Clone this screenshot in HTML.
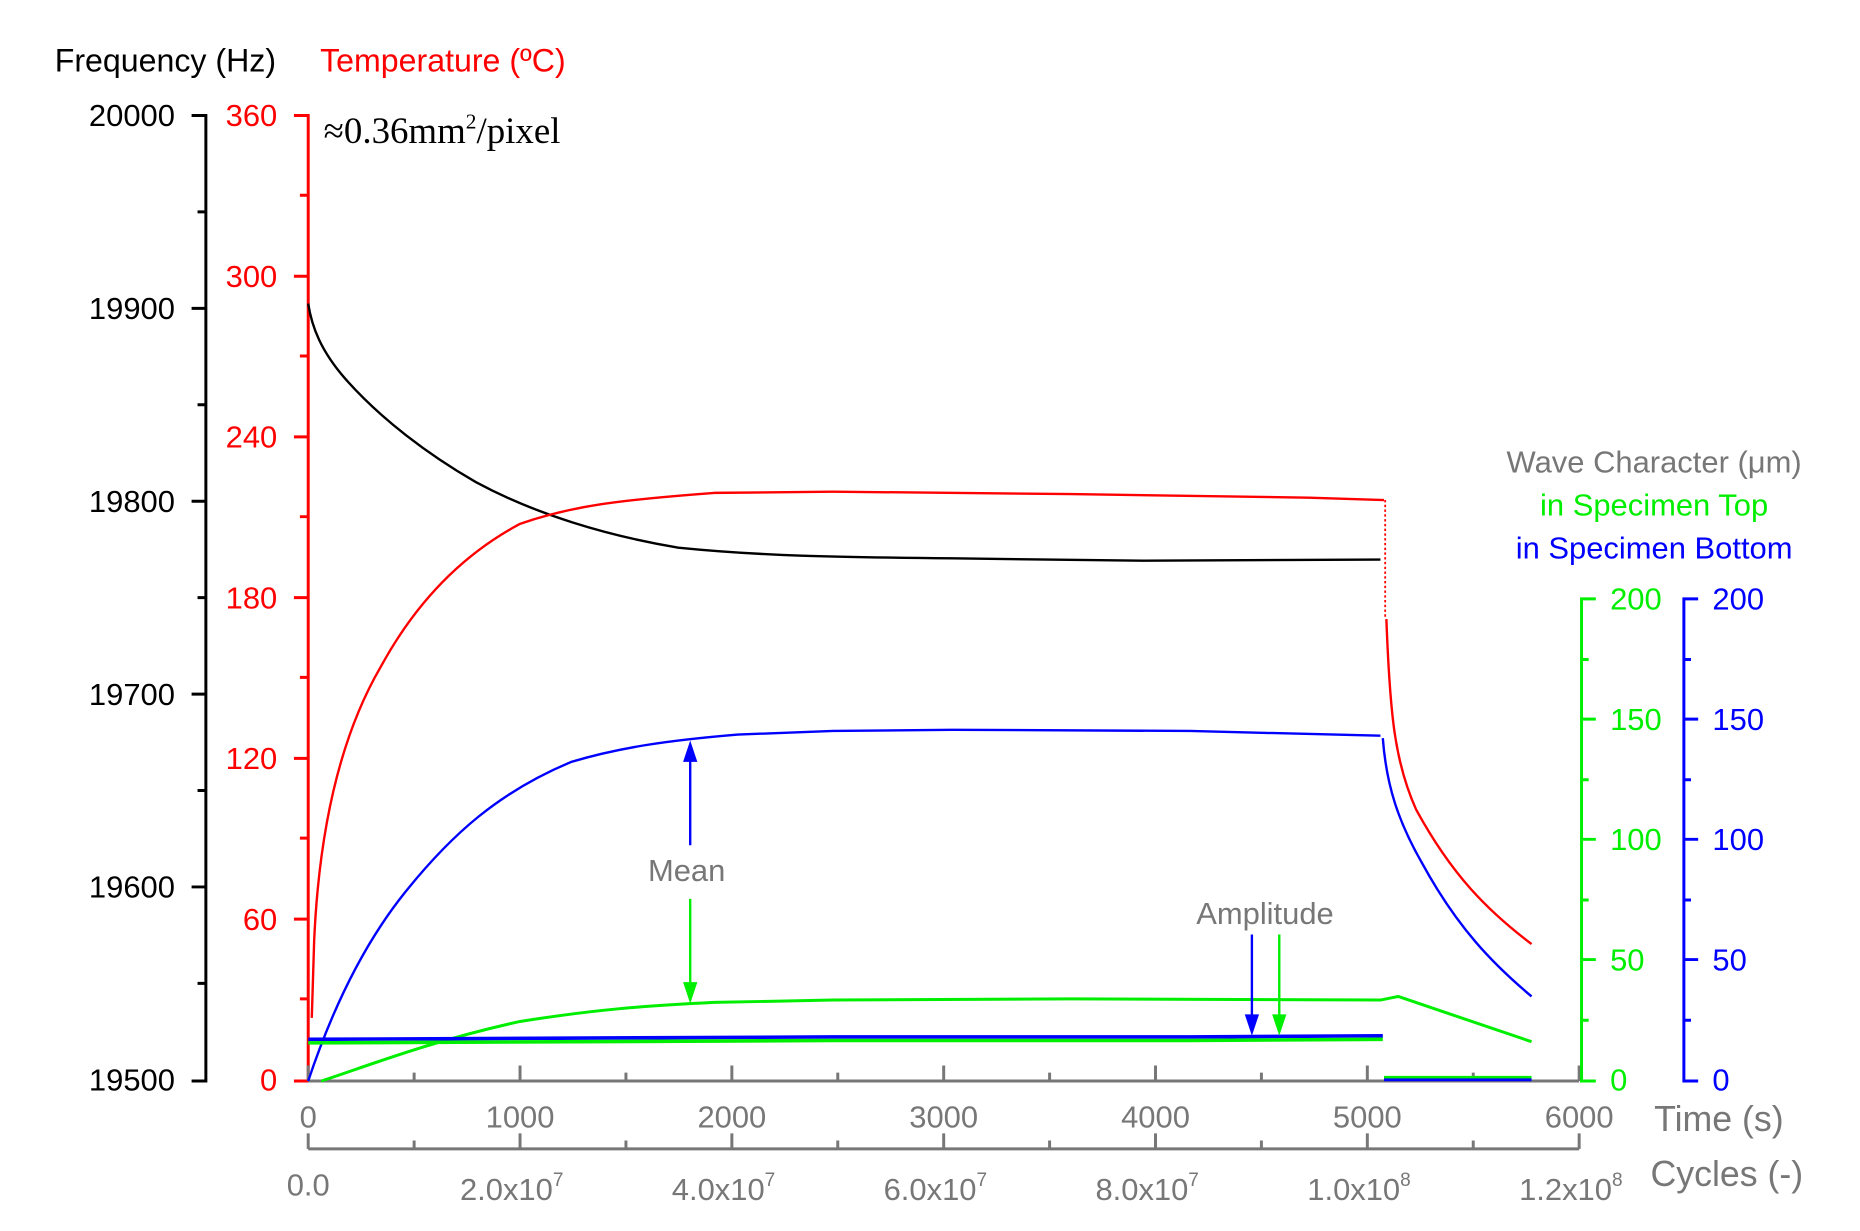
<!DOCTYPE html>
<html><head><meta charset="utf-8"><style>
html,body{margin:0;padding:0;background:#fff}
svg{display:block}
text{font-family:"Liberation Sans",Arial,sans-serif}
</style></head><body>
<svg width="1860" height="1231" viewBox="0 0 1563 1034" preserveAspectRatio="none" xmlns="http://www.w3.org/2000/svg">
<text x="46" y="60" font-size="27" fill="#000">Frequency (Hz)</text>
<text x="269" y="60" font-size="27" fill="#f00">Temperature (ºC)</text>
<text x="272" y="120" font-size="31" fill="#000" style="font-family:'Liberation Serif',serif">≈0.36mm<tspan font-size="18" dy="-12">2</tspan><tspan dy="12">/pixel</tspan></text>

<g stroke="#000" stroke-width="2.5" fill="none">
<path d="M161,97 H173 V908 H161"/>
<path d="M161,259 H173 M161,421 H173 M161,583 H173 M161,745 H173"/>
<path d="M166,178 H173 M166,340 H173 M166,502 H173 M166,664 H173 M166,826 H173"/>
</g>
<g font-size="26" fill="#000" text-anchor="end">
<text x="147" y="106">20000</text><text x="147" y="268">19900</text><text x="147" y="430">19800</text>
<text x="147" y="592">19700</text><text x="147" y="754">19600</text><text x="147" y="916">19500</text>
</g>
<g stroke="#f00" stroke-width="2.5" fill="none">
<path d="M247,97 H259 V908 H247"/>
<path d="M247,232 H259 M247,367 H259 M247,502 H259 M247,637 H259 M247,772 H259"/>
<path d="M252,164 H259 M252,299 H259 M252,434 H259 M252,569 H259 M252,704 H259 M252,839 H259"/>
</g>
<g font-size="26" fill="#f00" text-anchor="end">
<text x="233" y="106">360</text><text x="233" y="241">300</text><text x="233" y="376">240</text>
<text x="233" y="511">180</text><text x="233" y="646">120</text><text x="233" y="781">60</text><text x="233" y="916">0</text>
</g>
<g stroke="#777" stroke-width="2.5" fill="none">
<path d="M259,908 H1327"/>
<path d="M259,908 V895 M437,908 V895 M615,908 V895 M793,908 V895 M971,908 V895 M1149,908 V895 M1327,908 V895"/>
<path d="M348,908 V901 M526,908 V901 M704,908 V901 M882,908 V901 M1060,908 V901 M1238,908 V901"/>
<path d="M259,965 H1327 M259,952 V965 M1327,952 V965"/>
<path d="M437,965 V952 M615,965 V952 M793,965 V952 M971,965 V952 M1149,965 V952"/>
<path d="M348,965 V958 M526,965 V958 M704,965 V958 M882,965 V958 M1060,965 V958 M1238,965 V958"/>
</g>
<g font-size="26" fill="#777" text-anchor="middle">
<text x="259" y="947">0</text><text x="437" y="947">1000</text><text x="615" y="947">2000</text><text x="793" y="947">3000</text>
<text x="971" y="947">4000</text><text x="1149" y="947">5000</text><text x="1327" y="947">6000</text>
<text x="259" y="1004">0.0</text>
<text x="430" y="1008">2.0x10<tspan font-size="16" dy="-12">7</tspan></text>
<text x="608" y="1008">4.0x10<tspan font-size="16" dy="-12">7</tspan></text>
<text x="786" y="1008">6.0x10<tspan font-size="16" dy="-12">7</tspan></text>
<text x="964" y="1008">8.0x10<tspan font-size="16" dy="-12">7</tspan></text>
<text x="1142" y="1008">1.0x10<tspan font-size="16" dy="-12">8</tspan></text>
<text x="1320" y="1008">1.2x10<tspan font-size="16" dy="-12">8</tspan></text>
</g>
<text x="1390" y="950" font-size="30" fill="#777">Time (s)</text>
<text x="1387" y="996" font-size="30" fill="#777">Cycles (-)</text>

<text x="1390" y="397" font-size="26" fill="#777" text-anchor="middle">Wave Character (μm)</text>
<text x="1390" y="433" font-size="26" fill="#00ee00" text-anchor="middle">in Specimen Top</text>
<text x="1390" y="469" font-size="26" fill="#00f" text-anchor="middle">in Specimen Bottom</text>
<g stroke="#00ee00" stroke-width="2.5" fill="none">
<path d="M1341,503 H1329 V908 H1341"/>
<path d="M1341,604 H1329 M1341,705 H1329 M1341,806 H1329"/>
<path d="M1335,554 H1329 M1335,655 H1329 M1335,756 H1329 M1335,857 H1329"/>
</g>
<g stroke="#00f" stroke-width="2.5" fill="none">
<path d="M1427,503 H1415 V908 H1427"/>
<path d="M1427,604 H1415 M1427,705 H1415 M1427,806 H1415"/>
<path d="M1421,554 H1415 M1421,655 H1415 M1421,756 H1415 M1421,857 H1415"/>
</g>
<g font-size="26" fill="#00ee00">
<text x="1353" y="512">200</text><text x="1353" y="613">150</text><text x="1353" y="714">100</text><text x="1353" y="815">50</text><text x="1353" y="916">0</text>
</g>
<g font-size="26" fill="#00f">
<text x="1439" y="512">200</text><text x="1439" y="613">150</text><text x="1439" y="714">100</text><text x="1439" y="815">50</text><text x="1439" y="916">0</text>
</g>

<g fill="none" stroke-linejoin="round">
<path stroke="#000" stroke-width="2" d="M259,255 C262,275 270,295 290,318 C320,352 360,382 400,405 C450,432 510,450 570,460 C640,467 700,468 800,469 L960,471 L1160,470"/>
<path stroke="#f00" stroke-width="2" d="M262,855 L264,790 C268,700 285,620 320,560 C350,505 390,465 437,440 C480,425 520,420 600,414 L700,413 L900,415 L1100,418 L1163,420"/>
<path stroke="#f00" stroke-width="1.5" stroke-dasharray="2,2" d="M1164,420 V520"/>
<path stroke="#f00" stroke-width="2" d="M1165,520 C1168,600 1172,640 1190,680 C1220,735 1250,765 1287,793"/>
<path stroke="#00f" stroke-width="2" d="M259,908 C275,860 300,800 340,750 C380,700 420,665 480,640 C520,628 560,622 620,617 L700,614 L800,613 L1000,614 L1160,618"/>
<path stroke="#00f" stroke-width="2" d="M1162,620 C1165,660 1175,690 1195,725 C1225,780 1255,810 1287,837"/>
<path stroke="#00ee00" stroke-width="2.5" d="M270,908 C310,895 360,875 437,858 C500,848 540,845 600,842 L700,840 L900,839 L1160,840 L1175,837 L1287,875"/>
<path stroke="#00f" stroke-width="3" d="M259,873 L700,871 L1000,871 L1162,870"/>
<path stroke="#00ee00" stroke-width="3" d="M259,876 L700,874 L1000,874 L1162,873"/>
<path stroke="#00ee00" stroke-width="2.5" d="M1163,905 H1287"/>
<path stroke="#00f" stroke-width="2.5" d="M1163,907 H1287"/>
</g>

<text x="577" y="740" font-size="26" fill="#777" text-anchor="middle">Mean</text>
<text x="1063" y="776" font-size="26" fill="#777" text-anchor="middle">Amplitude</text>
<g stroke-width="2">
<path stroke="#00f" d="M580,710 V630"/><path fill="#00f" d="M574,640 L580,622 L586,640Z"/>
<path stroke="#00ee00" d="M580,755 V835"/><path fill="#00ee00" d="M574,825 L580,843 L586,825Z"/>
<path stroke="#00f" d="M1052,785 V862"/><path fill="#00f" d="M1046,852 L1052,870 L1058,852Z"/>
<path stroke="#00ee00" d="M1075,785 V862"/><path fill="#00ee00" d="M1069,852 L1075,870 L1081,852Z"/>
</g>
</svg>
</body></html>
